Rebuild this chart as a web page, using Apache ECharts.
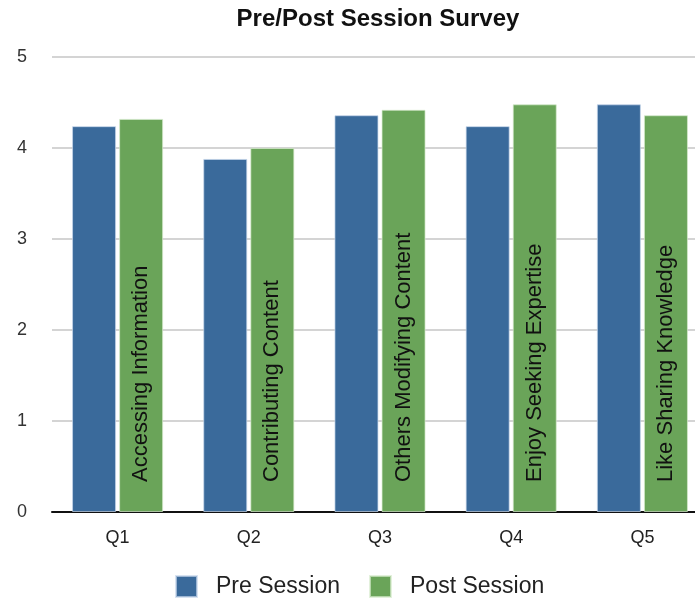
<!DOCTYPE html>
<html>
<head>
<meta charset="utf-8">
<script src="https://cdn.jsdelivr.net/npm/echarts@6/dist/echarts.min.js"></script>
<style>
  html, body { margin: 0; padding: 0; background: #fff; overflow: hidden; }
  /* canvas is wider than the window so the plot area runs off the right edge */
  #chart { width: 720px; height: 598px; }
</style>
</head>
<body>
<div id="chart"></div>
<script>
// Survey questions and their average scores
const questions = ['Q1', 'Q2', 'Q3', 'Q4', 'Q5'];
const topics = ['Accessing Information', 'Contributing Content', 'Others Modifying Content', 'Enjoy Seeking Expertise', 'Like Sharing Knowledge'];
const preSession = [4.24, 3.88, 4.36, 4.24, 4.48];
const postSession = [4.32, 4.00, 4.42, 4.48, 4.36];
const yTicks = [0, 1, 2, 3, 4, 5];

const FONT = '"Liberation Sans", Arial, Helvetica, sans-serif';
const BLUE = '#3a6a9b';
const GREEN = '#6aa459';

const chart = echarts.init(document.getElementById('chart'), null, { renderer: 'canvas' });

chart.setOption({
  animation: false,
  backgroundColor: '#ffffff',
  title: {
    text: 'Pre/Post Session Survey',
    left: 378,
    textAlign: 'center',
    top: 7,
    padding: 0,
    textStyle: { fontFamily: FONT, fontSize: 24, fontWeight: 'bold', color: '#111' }
  },
  legend: {
    data: ['Pre Session', 'Post Session'],
    left: 175,
    top: 575,
    padding: 0,
    itemWidth: 21,
    itemHeight: 21,
    itemGap: 29,
    icon: 'rect',
    textStyle: { fontFamily: FONT, fontSize: 23, color: '#222', padding: [0, 0, 0, 14] }
  },
  grid: {
    left: 52,
    right: 12,
    top: 57,
    bottom: 86,
    containLabel: false
  },
  xAxis: {
    type: 'category',
    data: questions,
    axisLine: { lineStyle: { color: '#111', width: 2 } },
    axisTick: { show: false },
    axisLabel: { fontFamily: FONT, fontSize: 18, color: '#222', margin: 17 }
  },
  yAxis: {
    type: 'value',
    min: yTicks[0],
    max: yTicks[yTicks.length - 1],
    interval: 1,
    axisLine: { show: false },
    axisTick: { show: false },
    axisLabel: { fontFamily: FONT, fontSize: 18, color: '#333', margin: 25, align: 'right' },
    splitLine: { lineStyle: { color: '#d4d4d4', width: 2 } }
  },
  series: [
    {
      name: 'Pre Session',
      type: 'bar',
      data: preSession,
      barWidth: 44,
      barGap: '7%',
      itemStyle: { color: BLUE, borderColor: 'rgba(200,215,235,0.7)', borderWidth: 1 }
    },
    {
      name: 'Post Session',
      type: 'bar',
      data: postSession,
      barWidth: 44,
      barGap: '7%',
      itemStyle: { color: GREEN, borderColor: 'rgba(215,235,205,0.7)', borderWidth: 1 },
      label: {
        show: true,
        position: 'insideBottom',
        distance: 30,
        rotate: 90,
        align: 'left',
        verticalAlign: 'middle',
        fontFamily: FONT,
        fontSize: 22,
        color: '#111',
        formatter: p => topics[p.dataIndex]
      }
    }
  ]
});
</script>
</body>
</html>
